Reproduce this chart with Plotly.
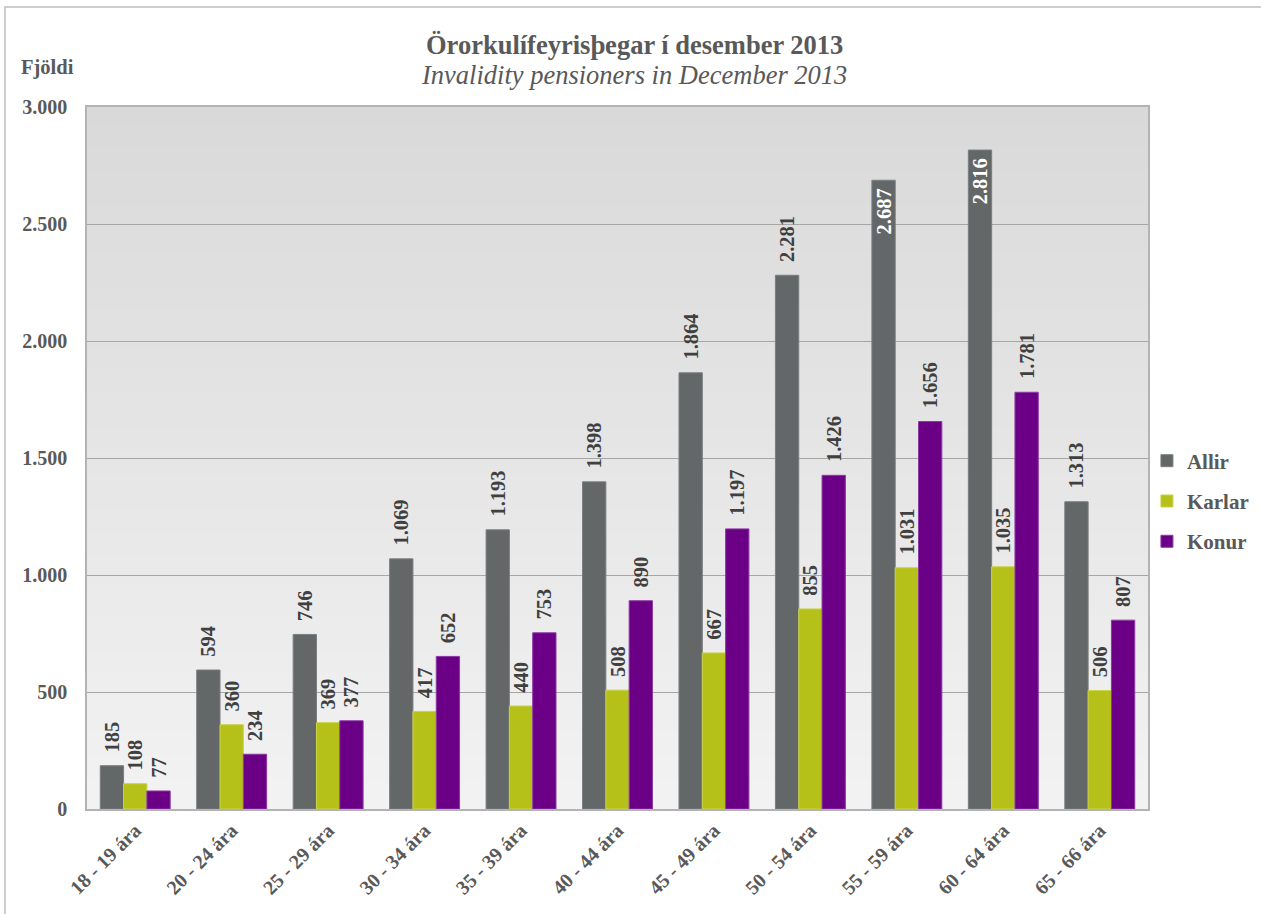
import plotly.graph_objects as go

categories = ["18 - 19 ára", "20 - 24 ára", "25 - 29 ára", "30 - 34 ára", "35 - 39 ára",
              "40 - 44 ára", "45 - 49 ára", "50 - 54 ára", "55 - 59 ára", "60 - 64 ára", "65 - 66 ára"]
allir = [185, 594, 746, 1069, 1193, 1398, 1864, 2281, 2687, 2816, 1313]
karlar = [108, 360, 369, 417, 440, 508, 667, 855, 1031, 1035, 506]
konur = [77, 234, 377, 652, 753, 890, 1197, 1426, 1656, 1781, 807]
y_ticks = [0, 500, 1000, 1500, 2000, 2500, 3000]

series = [("Allir", allir, "#636768", "#7a7e80"),
          ("Karlar", karlar, "#b5c118", "#c8d24a"),
          ("Konur", konur, "#6b0087", "#8a3aa3")]

FONT = "Liberation Serif, Times New Roman, serif"
TXT = "#595959"
PAD_OUT = "<span style='color:rgba(0,0,0,0)'>0</span>"
PAD_IN = "<span style='color:rgba(0,0,0,0)'>.</span>"

fig = go.Figure()
for name, vals, col, lcol in series:
    inside = [v > 2600 for v in vals]
    pos = ["inside" if f else "outside" for f in inside]
    tmpl = ["%{y:,d}" + PAD_IN if f else PAD_OUT + "%{y:,d}" for f in inside]
    fig.add_trace(go.Bar(
        name=name, x=categories, y=vals,
        marker=dict(color=col, line=dict(color=lcol, width=1)),
        texttemplate=tmpl, textposition=pos, textangle=-90,
        insidetextanchor="end", constraintext="none", cliponaxis=False,
        insidetextfont=dict(family=FONT, size=20.5, color="white", weight="bold"),
        outsidetextfont=dict(family=FONT, size=20.5, color="#404040", weight="bold"),
        legendgroup=name,
    ))

# gradient background of plot area
shapes = []
n = 60
top_c = (217, 217, 217)
bot_c = (242, 242, 242)
for i in range(n):
    t = i / (n - 1)
    c = tuple(round(top_c[k] + (bot_c[k] - top_c[k]) * t) for k in range(3))
    y1 = min(1, 1 - i / n + 0.6 / n)
    y0 = 1 - (i + 1) / n
    shapes.append(dict(type="rect", xref="paper", yref="paper", x0=0, x1=1, y0=y0, y1=y1,
                       fillcolor="rgb(%d,%d,%d)" % c, line=dict(width=0), layer="below"))
# outer chart border
shapes.append(dict(type="rect", xref="paper", yref="paper", x0=-0.0773, x1=1.3, y0=-0.3, y1=1.1425,
                   line=dict(color="#bfbfbf", width=1.5), fillcolor="rgba(0,0,0,0)", layer="below"))

fig.update_layout(
    width=1261, height=914,
    margin=dict(l=87, r=113, t=107, b=105, autoexpand=False),
    paper_bgcolor="white", plot_bgcolor="rgba(0,0,0,0)",
    separators=",.",
    barmode="group", bargap=0.275, bargroupgap=0,
    font=dict(family=FONT, color=TXT),
    shapes=shapes,
    showlegend=True,
    legend=dict(x=0.999, xanchor="left", y=0.4387, yanchor="middle",
                font=dict(family=FONT, size=21, color=TXT, weight="bold"),
                tracegroupgap=10, bgcolor="rgba(0,0,0,0)"),
    annotations=[
        dict(text="<b>Örorkulífeyrisþegar í desember 2013</b>", xref="paper", yref="paper",
             x=(634 - 87) / 1061, y=(809 - 45) / 702, xanchor="center", yanchor="middle",
             showarrow=False, font=dict(family=FONT, size=26.5, color=TXT)),
        dict(text="<i>Invalidity pensioners in December 2013</i>", xref="paper", yref="paper",
             x=(634 - 87) / 1061, y=(809 - 75) / 702, xanchor="center", yanchor="middle",
             showarrow=False, font=dict(family=FONT, size=26.5, color=TXT)),
        dict(text="<b>Fjöldi</b>", xref="paper", yref="paper",
             x=(19 - 87) / 1061, y=(809 - 67) / 702, xanchor="left", yanchor="middle",
             showarrow=False, font=dict(family=FONT, size=20.5, color=TXT)),
    ],
)
fig.update_xaxes(
    tickangle=-45, showgrid=False, showline=True, mirror=True, linecolor="#b3b3b3", linewidth=1.5,
    tickfont=dict(family=FONT, size=20, color=TXT, weight="bold"), ticks="",
)
fig.update_yaxes(
    range=[0, 3000], tickvals=y_ticks, tickformat=",d", showgrid=True, gridcolor="#a6a6a6", gridwidth=1,
    showline=True, mirror=True, linecolor="#b3b3b3", linewidth=1.5, zeroline=False,
    tickfont=dict(family=FONT, size=20, color=TXT, weight="bold"), ticks="", ticklabelstandoff=14,
)

fig.write_html("out.html", config={"displayModeBar": False},
               post_script="document.body.style.margin='0';document.body.style.padding='0';")
